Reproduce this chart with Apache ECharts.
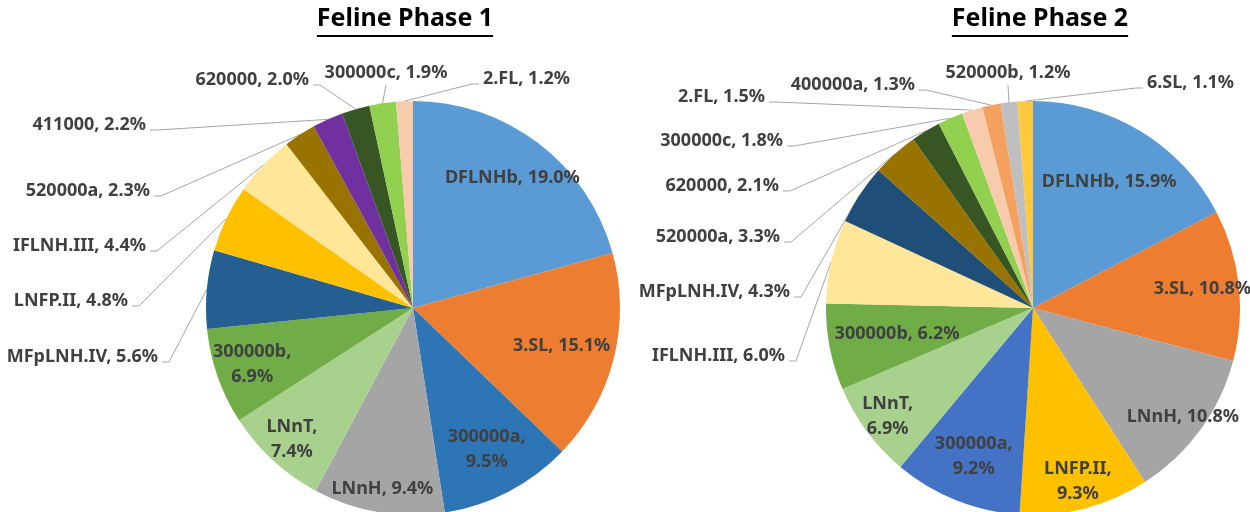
<!DOCTYPE html>
<html>
<head>
<meta charset="utf-8">
<script src="https://cdn.jsdelivr.net/npm/echarts@6/dist/echarts.min.js"></script>
<style>
html, body { margin: 0; padding: 0; background: #fff; }
#main { width: 1250px; height: 512px; }
</style>
</head>
<body>
<div id="main"></div>
<script>
// Feline Phase 1
const names1 = ['DFLNHb', '3.SL', '300000a', 'LNnH', 'LNnT', '300000b', 'MFpLNH.IV', 'LNFP.II', 'IFLNH.III', '520000a', '411000', '620000', '300000c', '2.FL'];
const values1 = [19.0, 15.1, 9.5, 9.4, 7.4, 6.9, 5.6, 4.8, 4.4, 2.3, 2.2, 2.0, 1.9, 1.2];
const colors1 = ['#5B9BD5', '#ED7D31', '#2E75B6', '#A5A5A5', '#A9D18E', '#70AD47', '#255E91', '#FFC000', '#FFE699', '#997300', '#7030A0', '#375623', '#92D050', '#F8CBAD'];

// Feline Phase 2
const names2 = ['DFLNHb', '3.SL', 'LNnH', 'LNFP.II', '300000a', 'LNnT', '300000b', 'IFLNH.III', 'MFpLNH.IV', '520000a', '620000', '300000c', '2.FL', '400000a', '520000b', '6.SL'];
const values2 = [15.9, 10.8, 10.8, 9.3, 9.2, 6.9, 6.2, 6.0, 4.3, 3.3, 2.1, 1.8, 1.5, 1.3, 1.2, 1.1];
const colors2 = ['#5B9BD5', '#ED7D31', '#A5A5A5', '#FFC000', '#4472C4', '#A9D18E', '#70AD47', '#FFE699', '#1F4E79', '#997300', '#375623', '#92D050', '#F8CBAD', '#F4A15F', '#BFBFBF', '#FFC83D'];

const titles = ['Feline Phase 1', 'Feline Phase 2'];

// label placement (styling only)
const pies = [
    {
        center: [413, 308],
        titleX: 405,
        wrap: ['300000a', 'LNnT', '300000b'],
        inside: { 'DFLNHb': 0.77, '3.SL': 0.72, '300000a': 0.75, 'LNnH': 0.86, 'LNnT': 0.84, '300000b': 0.80 },
        outside: {
            'MFpLNH.IV': [158, 357, 'right'],
            'LNFP.II': [128, 301, 'right'],
            'IFLNH.III': [146, 246, 'right'],
            '520000a': [150, 191, 'right'],
            '411000': [146, 125, 'right'],
            '620000': [309, 80, 'right'],
            '300000c': [386, 73, 'center'],
            '2.FL': [483, 79, 'left']
        }
    },
    {
        center: [1033, 308],
        titleX: 1040,
        wrap: ['LNFP.II', '300000a', 'LNnT'],
        inside: { 'DFLNHb': 0.69, '3.SL': 0.80, 'LNnH': 0.87, 'LNFP.II': 0.84, '300000a': 0.75, 'LNnT': 0.85, '300000b': 0.65 },
        outside: {
            'IFLNH.III': [785, 356, 'right'],
            'MFpLNH.IV': [790, 292, 'right'],
            '520000a': [780, 237, 'right'],
            '620000': [779, 186, 'right'],
            '300000c': [783, 141, 'right'],
            '2.FL': [765, 97, 'right'],
            '400000a': [915, 85, 'right'],
            '520000b': [1008, 73, 'center'],
            '6.SL': [1147, 83, 'left']
        }
    }
];
const R = 207;
const allNames = [names1, names2];
const allValues = [values1, values2];
const allColors = [colors1, colors2];

function makeLayout(k) {
    const p = pies[k];
    return function (params) {
        const name = allNames[k][params.dataIndex];
        const rect = params.labelRect;
        if (p.outside[name]) {
            const o = p.outside[name];
            const x = o[0], y = o[1], align = o[2];
            const start = params.labelLinePoints ? params.labelLinePoints[0] : [x, y];
            let end, elbow;
            if (align === 'right') {
                end = [x + 4, y + 5]; elbow = [x + 11, y + 5];
            } else if (align === 'left') {
                end = [x - 4, y + 5]; elbow = [x - 11, y + 5];
            } else {
                end = [x, y + 12]; elbow = [x, y + 12];
            }
            return {
                x: x, y: y, align: align, verticalAlign: 'middle',
                labelLinePoints: [start, elbow, end]
            };
        }
        const f = p.inside[name] || 0.78;
        const cx = rect.x + rect.width / 2;
        const cy = rect.y + rect.height / 2;
        const s = f / 0.5;
        return {
            x: p.center[0] + (cx - p.center[0]) * s,
            y: p.center[1] + (cy - p.center[1]) * s,
            align: 'center', verticalAlign: 'middle'
        };
    };
}

function makeSeries(k) {
    const p = pies[k];
    const vals = allValues[k];
    return {
        type: 'pie',
        center: p.center,
        radius: R,
        startAngle: 90,
        clockwise: true,
        avoidLabelOverlap: false,
        animation: false,
        emphasis: { disabled: true },
        label: {
            fontFamily: 'Noto Sans',
            fontSize: 18,
            fontWeight: 'bold',
            color: '#404040',
            lineHeight: 25,
            formatter(d) {
                const sep = p.wrap.indexOf(d.name) >= 0 ? ',\n' : ', ';
                return d.name + sep + d.value.toFixed(1) + '%';
            }
        },
        labelLine: {
            length: 10,
            length2: 10,
            lineStyle: { color: '#A6A6A6', width: 1 }
        },
        labelLayout: makeLayout(k),
        data: allNames[k].map((n, i) => ({
            name: n,
            value: vals[i],
            itemStyle: { color: allColors[k][i] },
            label: { position: vals[i] < 6.1 ? 'outside' : 'inside' },
            labelLine: { show: vals[i] < 6.1 }
        }))
    };
}

const titleFont = 'bold 25px "Noto Sans"';
const ctx = document.createElement('canvas').getContext('2d');
ctx.font = titleFont;
const graphics = [];
titles.forEach((t, k) => {
    const w = ctx.measureText(t).width;
    graphics.push({
        type: 'text', x: pies[k].titleX, y: 19,
        style: { text: t, font: titleFont, fill: '#000', align: 'center', verticalAlign: 'middle' }
    });
    graphics.push({
        type: 'rect',
        shape: { x: pies[k].titleX - w / 2, y: 35, width: w, height: 2 },
        style: { fill: '#000' }
    });
});

const chart = echarts.init(document.getElementById('main'));
chart.setOption({
    backgroundColor: '#fff',
    animation: false,
    graphic: graphics,
    series: [makeSeries(0), makeSeries(1)]
});
</script>
</body>
</html>
